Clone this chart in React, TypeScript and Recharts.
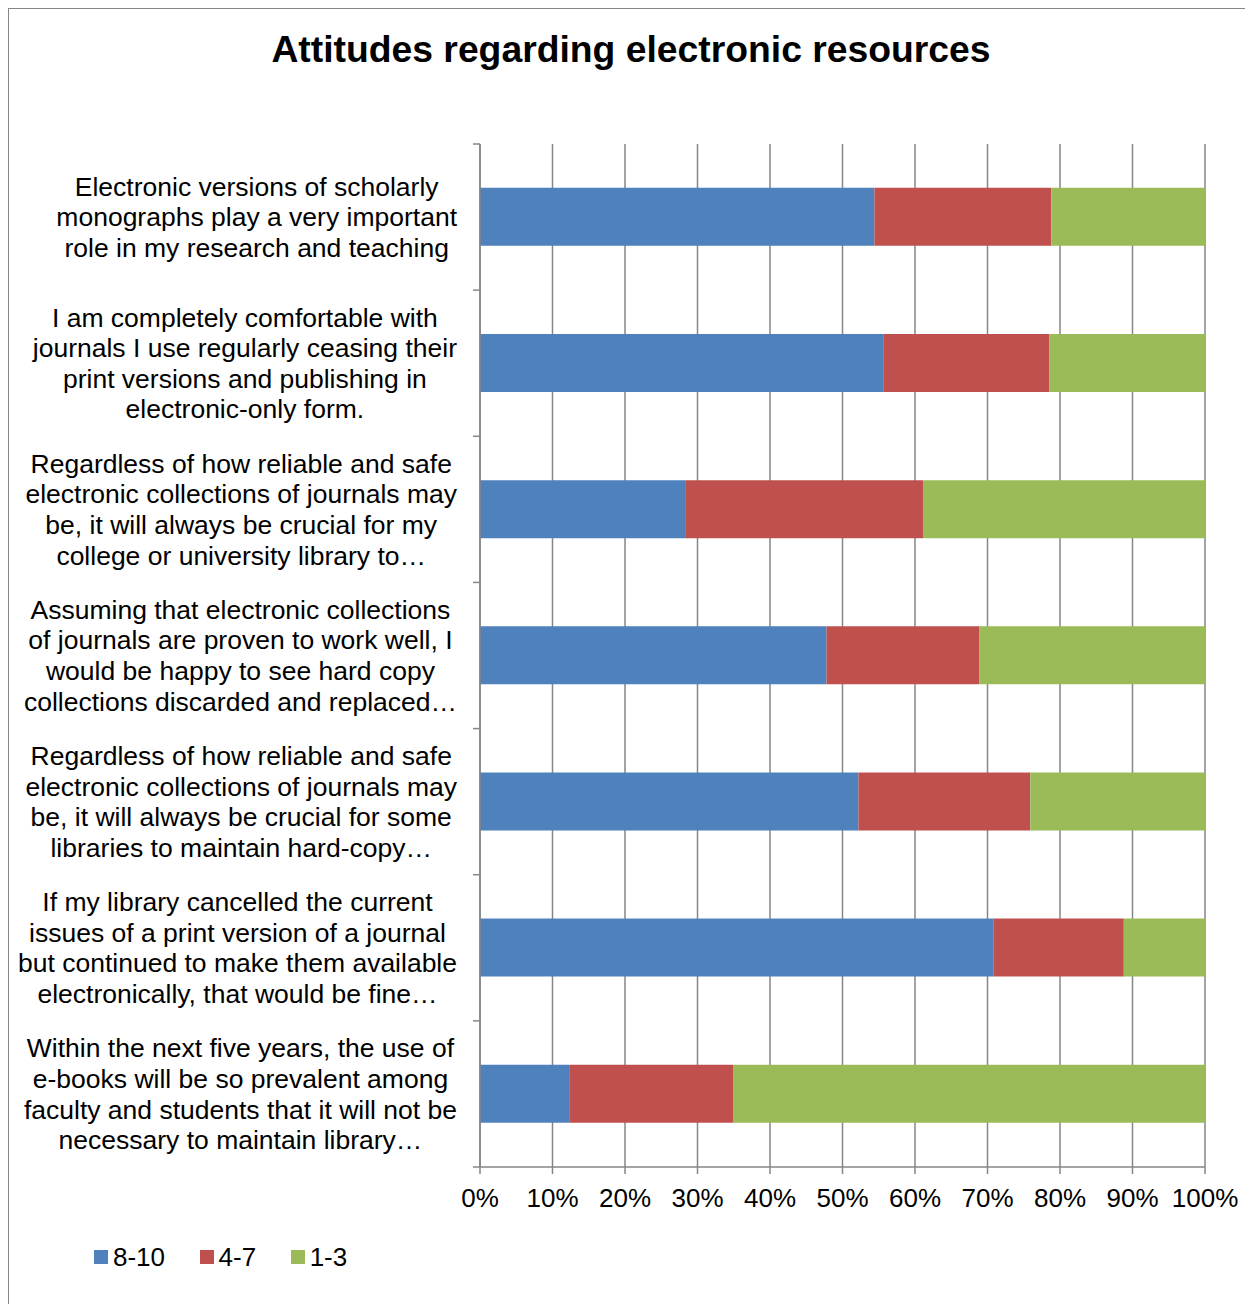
import React from 'react';
import { BarChart, Bar, XAxis, YAxis, CartesianGrid, Legend } from 'recharts';

const CATEGORIES = [
  'Electronic versions of scholarly\nmonographs play a very important\nrole in my research and teaching',
  'I am completely comfortable with\njournals I use regularly ceasing their\nprint versions and publishing in\nelectronic-only form.',
  'Regardless of how reliable and safe\nelectronic collections of journals may\nbe, it will always be crucial for my\ncollege or university library to…',
  'Assuming that electronic collections\nof journals are proven to work well, I\nwould be happy to see hard copy\ncollections discarded and replaced…',
  'Regardless of how reliable and safe\nelectronic collections of journals may\nbe, it will always be crucial for some\nlibraries to maintain hard-copy…',
  'If my library cancelled the current\nissues of a print version of a journal\nbut continued to make them available\nelectronically, that would be fine…',
  'Within the next five years, the use of\ne-books will be so prevalent among\nfaculty and students that it will not be\nnecessary to maintain library…',
];

const HIGH = [54.4, 55.7, 28.4, 47.8, 52.2, 70.8, 12.4];
const MID = [24.4, 22.8, 32.7, 21.1, 23.7, 18.0, 22.5];
const LOW = [21.2, 21.5, 38.9, 31.1, 24.1, 11.2, 65.1];

const X_TICKS = [0, 10, 20, 30, 40, 50, 60, 70, 80, 90, 100];

const SERIES = [
  { key: 'high', name: '8-10', color: '#4F81BD' },
  { key: 'mid', name: '4-7', color: '#C0504D' },
  { key: 'low', name: '1-3', color: '#9BBB59' },
];

const data = CATEGORIES.map((name, i) => ({ name, high: HIGH[i], mid: MID[i], low: LOW[i] }));

const FONT = '"Liberation Sans", Arial, sans-serif';
const FONT_SIZE = 26.5;
const LINE_H = 30.6;
const AXIS_COLOR = '#868686';
const TICK_LEN = 7;
const LABEL_GAP = 23;

let ctx: CanvasRenderingContext2D | null = null;
const measure = (s: string) => {
  if (!ctx) {
    ctx = document.createElement('canvas').getContext('2d');
  }
  if (!ctx) return s.length * FONT_SIZE * 0.5;
  ctx.font = `${FONT_SIZE}px "Liberation Sans"`;
  return ctx.measureText(s).width;
};

// label block is right aligned, each line centred inside it (like Excel);
// tick marks go on the band boundaries, not the band centres
const CategoryTick = (props: any) => {
  const { x, y, payload, index, visibleTicksCount } = props;
  const half = payload && typeof payload.offset === 'number' ? payload.offset : 0;
  const lines: string[] = String(payload.value).split('\n');
  const maxW = Math.max(...lines.map(measure));
  const cx = x - LABEL_GAP - maxW / 2;
  const startY = y - ((lines.length - 1) * LINE_H) / 2;
  const isLast = index === (visibleTicksCount ?? CATEGORIES.length) - 1;
  return (
    <g>
      <line x1={x - TICK_LEN} x2={x} y1={y - half} y2={y - half} stroke={AXIS_COLOR} strokeWidth={1.5} />
      {isLast && (
        <line x1={x - TICK_LEN} x2={x} y1={y + half} y2={y + half} stroke={AXIS_COLOR} strokeWidth={1.5} />
      )}
      {lines.map((line, i) => (
        <text
          key={i}
          x={cx}
          y={startY + i * LINE_H}
          dy="0.35em"
          textAnchor="middle"
          fontFamily={FONT}
          fontSize={FONT_SIZE}
          fill="#000"
        >
          {line}
        </text>
      ))}
    </g>
  );
};

const LegendContent = () => (
  <div style={{ display: 'flex', alignItems: 'center', fontFamily: FONT, fontSize: 26, color: '#000' }}>
    {SERIES.map(s => (
      <div key={s.key} style={{ display: 'flex', alignItems: 'center', marginRight: 34.5, height: 30 }}>
        <span style={{ width: 14, height: 14, background: s.color, marginRight: 5, display: 'inline-block' }} />
        <span>{s.name}</span>
      </div>
    ))}
  </div>
);

export default function App() {
  return (
    <div
      style={{
        position: 'relative',
        left: -1,
        top: -1,
        width: 1246,
        height: 1297,
        borderLeft: `2px solid ${AXIS_COLOR}`,
        borderTop: `2px solid ${AXIS_COLOR}`,
        boxSizing: 'border-box',
        background: '#fff',
      }}
    >
      <div
        style={{
          position: 'absolute',
          top: 18,
          left: 0,
          width: 1244,
          textAlign: 'center',
          fontFamily: FONT,
          fontWeight: 'bold',
          fontSize: 37.3,
          lineHeight: '44px',
          color: '#000',
        }}
      >
        Attitudes regarding electronic resources
      </div>
      <BarChart
        width={1244}
        height={1295}
        data={data}
        layout="vertical"
        margin={{ top: 135, right: 48, bottom: 77, left: 0 }}
        barCategoryGap="30%"
      >
        <CartesianGrid horizontal={false} stroke={AXIS_COLOR} strokeWidth={1.5} />
        <XAxis
          type="number"
          domain={[0, 100]}
          ticks={X_TICKS}
          tickFormatter={(v: number) => `${v}%`}
          height={60}
          tickSize={7}
          tickMargin={15}
          stroke={AXIS_COLOR}
          strokeWidth={1.5}
          tick={{ fill: '#000', fontSize: 26, fontFamily: FONT }}
          interval={0}
        />
        <YAxis
          type="category"
          dataKey="name"
          width={471}
          stroke={AXIS_COLOR}
          strokeWidth={1.5}
          tickLine={false}
          tickSize={0}
          tickMargin={0}
          tick={<CategoryTick />}
          interval={0}
        />
        <Legend
          verticalAlign="middle"
          align="center"
          layout="horizontal"
          content={<LegendContent />}
          wrapperStyle={{ left: 85, top: 1233, width: 'auto' }}
        />
        {SERIES.map(s => (
          <Bar
            key={s.key}
            dataKey={s.key}
            name={s.name}
            stackId="a"
            fill={s.color}
            isAnimationActive={false}
          />
        ))}
      </BarChart>
    </div>
  );
}
